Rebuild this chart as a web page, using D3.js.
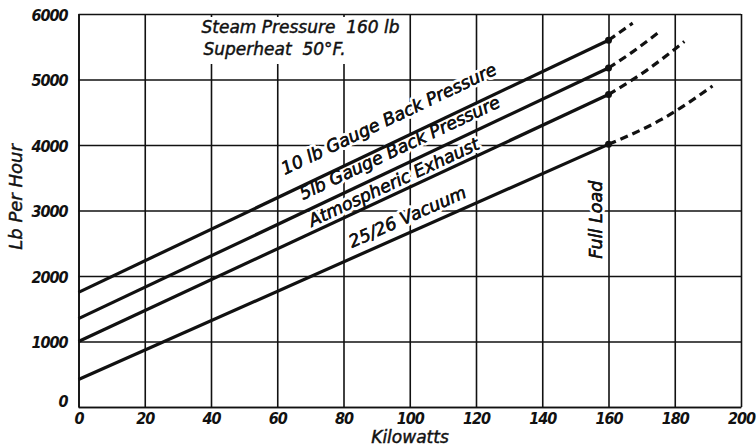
<!DOCTYPE html>
<html>
<head>
<meta charset="utf-8">
<script src="https://cdnjs.cloudflare.com/ajax/libs/d3/7.8.5/d3.min.js"></script>
<style>
body { margin: 0; background: #fff; }
svg text { font-family: "DejaVu Sans", sans-serif; font-style: oblique; fill: #111; white-space: pre; }
.axis .tick text { font-family: "DejaVu Sans Condensed", "DejaVu Sans", sans-serif; font-weight: bold; font-style: oblique; font-size: 16px; letter-spacing: -1px; }
.axis .tick line, .axis path { stroke: #111; stroke-width: 1.6; }
.halo { stroke: #fff; stroke-width: 6; paint-order: stroke; stroke-linejoin: round; }
.ink { stroke: #111; stroke-width: 0.45; }
</style>
</head>
<body>
<div id="chart"></div>
<script>
// tick values
var kwTicks = [0, 20, 40, 60, 80, 100, 120, 140, 160, 180, 200];
var lbTicks = [0, 1000, 2000, 3000, 4000, 5000, 6000];

// curves: solid part up to full load, dashed part beyond
var seriesNames = ["10 lb Gauge Back Pressure", "5lb Gauge Back Pressure", "Atmospheric Exhaust", "25/26 Vacuum"];
var solidKw = [0, 160];
var solid10lb = [1750, 5600];
var solid5lb = [1350, 5175];
var solidAtm = [1000, 4770];
var solidVac = [420, 4010];

var dash10lbKw = [160, 167.3];
var dash10lb = [5600, 5860];
var dash5lbKw = [160, 167.5, 174.9];
var dash5lb = [5175, 5430, 5710];
var dashAtmKw = [160, 171.5, 182.9];
var dashAtm = [4770, 5140, 5580];
var dashVacKw = [160, 176, 191.4];
var dashVac = [4010, 4390, 4900];

var fullLoadKw = 160;

var svg = d3.select("#chart").append("svg"),
    margin = {top: 14, right: 15, bottom: 39, left: 78.5},
    width = 756 - margin.left - margin.right,
    height = 446 - margin.top - margin.bottom;

svg.attr("width", 756).attr("height", 446);

var x = d3.scaleLinear().domain([0, 200]).range([0, width]),
    y = d3.scaleLinear().domain([0, 6000]).range([height, 0]);

var g = svg.append("g")
    .attr("transform", "translate(" + margin.left + "," + margin.top + ")");

var xAxis = d3.axisBottom(x).tickValues(kwTicks).tickFormat(d3.format("d"))
    .tickSize(-height).tickSizeOuter(0).tickPadding(6);
var yAxis = d3.axisLeft(y).tickValues(lbTicks).tickFormat(d3.format("d"))
    .tickSize(-width).tickSizeOuter(0).tickPadding(11);

g.append("g")
    .attr("class", "axis axis--x")
    .attr("transform", "translate(0," + height + ")")
    .call(xAxis);

g.append("g")
    .attr("class", "axis axis--y")
    .call(yAxis)
    .selectAll(".tick text")
    .attr("dy", function(d) { return d === 0 ? "-0.05em" : "0.4em"; });

// white box behind the note at the top
g.append("rect")
    .attr("x", 118).attr("y", 3)
    .attr("width", 210).attr("height", 47)
    .attr("fill", "#fff");

var note = g.append("text").attr("class", "ink").attr("font-size", 17);
note.append("tspan").attr("x", 123).attr("y", 19).text("Steam Pressure  160 lb");
note.append("tspan").attr("x", 125).attr("y", 41).text("Superheat  50°F.");

var solids = [solid10lb, solid5lb, solidAtm, solidVac];
var dashes = [[dash10lbKw, dash10lb], [dash5lbKw, dash5lb], [dashAtmKw, dashAtm], [dashVacKw, dashVac]];

// label placement: start point (kw, lb) of the baseline
var labelAt = [[62.3, 3542], [67.8, 3160], [70.5, 2748], [82.6, 2427]];

function angleOf(vals) {
  var dx = x(solidKw[1]) - x(solidKw[0]);
  var dy = y(vals[1]) - y(vals[0]);
  return Math.atan2(dy, dx) * 180 / Math.PI;
}

function label(txt, tf) {
  g.append("text").attr("class", "halo").attr("font-size", 17.5)
      .attr("transform", tf).text(txt);
  g.append("text").attr("class", "ink").attr("font-size", 17.5)
      .attr("transform", tf).text(txt);
}

seriesNames.forEach(function(name, i) {
  var px = x(labelAt[i][0]), py = y(labelAt[i][1]);
  label(name, "translate(" + px + "," + py + ") rotate(" + angleOf(solids[i]) + ")");
});

label("Full Load", "translate(" + (x(fullLoadKw) - 7) + "," + y(2263) + ") rotate(-90)");

var line = d3.line()
    .x(function(d) { return x(d[0]); })
    .y(function(d) { return y(d[1]); });

var dashLine = d3.line()
    .curve(d3.curveNatural)
    .x(function(d) { return x(d[0]); })
    .y(function(d) { return y(d[1]); });

solids.forEach(function(vals, i) {
  g.append("path")
      .datum(solidKw.map(function(k, j) { return [k, vals[j]]; }))
      .attr("fill", "none")
      .attr("stroke", "#111")
      .attr("stroke-width", 3.2)
      .attr("d", line);

  var dk = dashes[i][0], dv = dashes[i][1];
  g.append("path")
      .datum(dk.map(function(k, j) { return [k, dv[j]]; }))
      .attr("fill", "none")
      .attr("stroke", "#111")
      .attr("stroke-width", 3.2)
      .attr("stroke-dasharray", "8,5")
      .attr("d", dashLine);

  g.append("circle")
      .attr("cx", x(solidKw[1]))
      .attr("cy", y(vals[1]))
      .attr("r", 3.5)
      .attr("fill", "#111");
});

// axis titles
svg.append("text")
    .attr("class", "ink")
    .attr("font-size", 18)
    .attr("text-anchor", "middle")
    .attr("transform", "translate(22,197) rotate(-90)")
    .text("Lb Per Hour");

svg.append("text")
    .attr("class", "ink")
    .attr("font-size", 17)
    .attr("text-anchor", "middle")
    .attr("x", 410).attr("y", 443)
    .text("Kilowatts");
</script>
</body>
</html>
